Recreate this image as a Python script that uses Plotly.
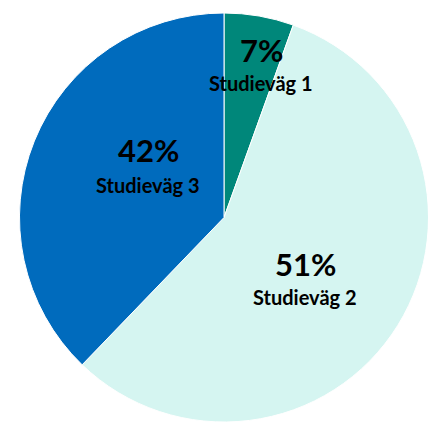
import plotly.graph_objects as go

# Data (slice sizes; printed labels as shown)
categories = ["Studieväg 1", "Studieväg 2", "Studieväg 3"]
slice_values = [5.5, 56.7, 37.8]
pct_labels = ["7%", "51%", "42%"]
colors = ["#00877A", "#D5F5F1", "#006BBD"]

W, H = 436, 422
OFF = 8  # page body margin offset
ML, MR, MT, MB = 11, 15, 5, 8

fig = go.Figure(go.Pie(
    labels=categories,
    values=slice_values,
    sort=False,
    direction="clockwise",
    rotation=0,
    marker=dict(colors=colors, line=dict(color="white", width=1)),
    textinfo="none",
    hoverinfo="label+percent",
    showlegend=False,
))

# label positions (pixel centres)
label_px = {
    "Studieväg 1": (261, 50, 83),
    "Studieväg 3": (148, 150, 185),
    "Studieväg 2": (305, 264, 297),
}

def px_to_paper(px, py):
    px -= OFF
    py -= OFF
    return (px - ML) / (W - ML - MR), (H - MB - py) / (H - MT - MB)

annotations = []
for cat, pct in zip(categories, pct_labels):
    cx, y1, y2 = label_px[cat]
    x, ya = px_to_paper(cx, y1)
    _, yb = px_to_paper(cx, y2)
    annotations.append(dict(x=x, y=ya, xref="paper", yref="paper", text=pct,
                            showarrow=False, xanchor="center", yanchor="middle",
                            font=dict(family="Lato", size=31, color="#000000", weight="bold")))
    annotations.append(dict(x=x, y=yb, xref="paper", yref="paper", text=cat,
                            showarrow=False, xanchor="center", yanchor="middle",
                            font=dict(family="Lato", size=20, color="#000000", weight="bold")))

fig.update_layout(
    width=W, height=H,
    margin=dict(l=ML, r=MR, t=MT, b=MB),
    paper_bgcolor="white",
    plot_bgcolor="white",
    annotations=annotations,
)

fig.write_html("out.html")
